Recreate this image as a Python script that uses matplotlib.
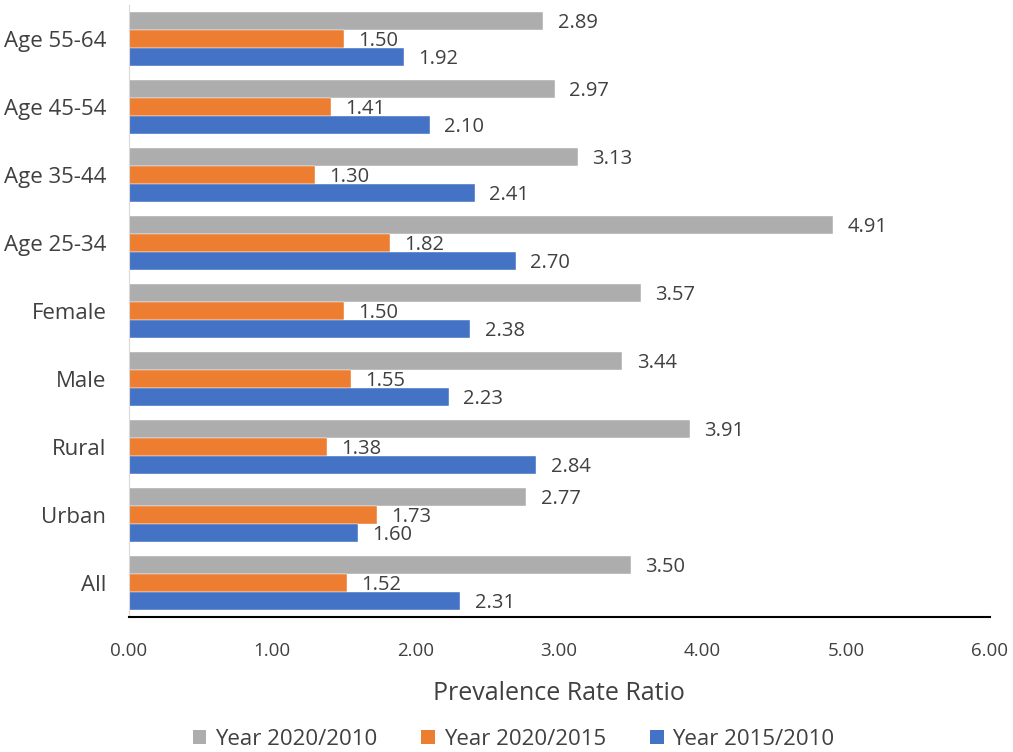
import matplotlib
matplotlib.use("Agg")
import matplotlib.pyplot as plt
import numpy as np
from matplotlib.patches import Patch

categories = ["All", "Urban", "Rural", "Male", "Female", "Age 25-34", "Age 35-44", "Age 45-54", "Age 55-64"]
y2020_2010 = [3.50, 2.77, 3.91, 3.44, 3.57, 4.91, 3.13, 2.97, 2.89]
y2020_2015 = [1.52, 1.73, 1.38, 1.55, 1.50, 1.82, 1.30, 1.41, 1.50]
y2015_2010 = [2.31, 1.60, 2.84, 2.23, 2.38, 2.70, 2.41, 2.10, 1.92]
series_names = ["Year 2020/2010", "Year 2020/2015", "Year 2015/2010"]
colors = ["#ADADAD", "#ED7D31", "#4472C4"]
xticks = [0, 1, 2, 3, 4, 5, 6]

plt.rcParams['font.family'] = ['Open Sans', 'DejaVu Sans']
txt = "#404040"

fig = plt.figure(figsize=(10.13, 7.52), dpi=100)
ax = fig.add_axes([0.127, 0.1795, 0.85, 0.8135])

y = np.arange(len(categories))
h = 0.265
series = [y2020_2010, y2020_2015, y2015_2010]
offsets = [h, 0, -h]
for vals, col, off in zip(series, colors, offsets):
    bars = ax.barh(y + off, vals, height=h, color=col, edgecolor="white", linewidth=0.3)
    for b, v in zip(bars, vals):
        ax.text(v + 0.1, b.get_y() + b.get_height() / 2 - 0.03, f"{v:.2f}",
                va="center", ha="left", fontsize=14.5, color=txt)

ax.set_xlim(0, 6)
ax.set_ylim(-0.5, len(categories) - 0.5)
ax.set_yticks(y)
ax.set_yticklabels(categories, fontsize=16, color=txt)
ax.set_xticks(xticks)
ax.set_xticklabels([f"{t:.2f}" for t in xticks], fontsize=13.5, color=txt)
ax.tick_params(axis="both", length=0)
ax.tick_params(axis="x", pad=18)
ax.tick_params(axis="y", pad=16)
for s in ["top", "right"]:
    ax.spines[s].set_visible(False)
ax.spines["left"].set_color("#D9D9D9")
ax.spines["bottom"].set_color("black")
ax.spines["bottom"].set_linewidth(1.5)
ax.set_xlabel("Prevalence Rate Ratio", fontsize=18, color=txt, labelpad=15)

handles = [Patch(facecolor=c, edgecolor="none") for c in colors]
fig.legend(handles, series_names, loc="center", bbox_to_anchor=(0.507, 0.017),
           ncol=3, frameon=False, fontsize=16, labelcolor=txt,
           handlelength=0.6, handleheight=0.6, columnspacing=2.0, handletextpad=0.4)

fig.savefig("out.png", dpi=100)
